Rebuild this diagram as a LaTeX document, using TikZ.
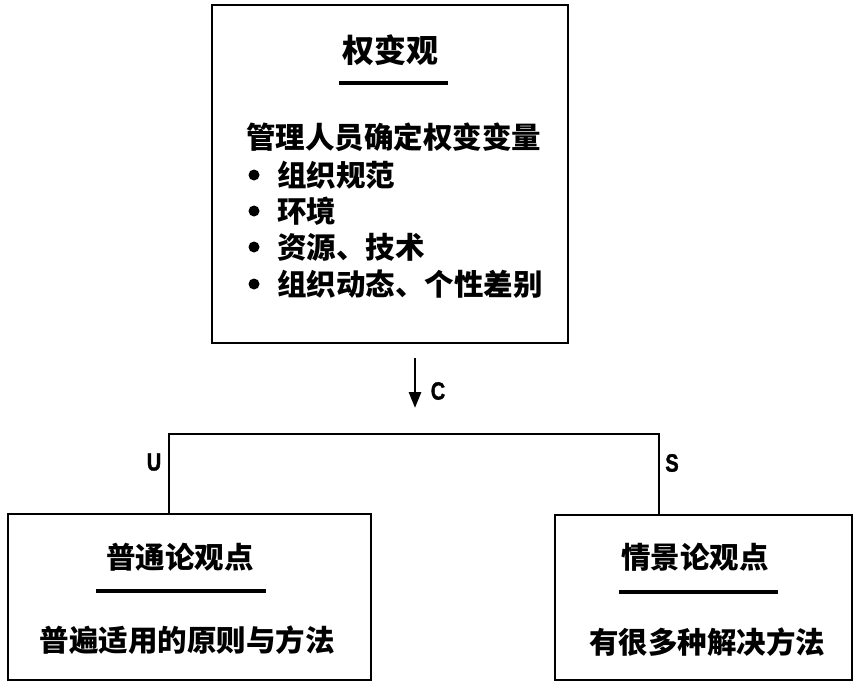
\documentclass[tikz,border=0pt]{standalone}
\usepackage{fontspec}
\usepackage{graphicx}
\newfontfamily\cjk{Noto Sans CJK SC}
\newfontfamily\latinb{Liberation Sans}[BoldFeatures={FakeBold=1.5}]
\usetikzlibrary{arrows.meta}
\newcommand{\narrowlab}[1]{\scalebox{0.8}[1]{#1}}
\begin{document}
\begin{tikzpicture}[x=1pt,y=-1pt,
  box/.style={draw,line width=2.6pt,minimum width=#1,inner sep=0pt},
  boxh/.style={minimum height=#1},
  ttl/.style={font=\cjk\bfseries\fontsize{32}{32}\selectfont,inner sep=0pt},
  txt/.style={font=\cjk\bfseries\fontsize{29.5}{29.5}\selectfont,inner sep=0pt},
  lab/.style={font=\latinb\bfseries\fontsize{25}{25}\selectfont,inner sep=0pt},
  bul/.style={circle,fill=black,minimum size=11pt,inner sep=0pt},
  uline/.style={line width=3.5pt},
  conn/.style={line width=2.8pt}]
\useasboundingbox (0,0) rectangle (858,685);
% boxes
\node[box=356pt,boxh=338pt] (top) at (390,174) {};
\node[box=363pt,boxh=166pt] (lbox) at (189.5,597) {};
\node[box=297pt,boxh=165pt] (rbox) at (703.5,597.5) {};
% top box content
\node[ttl] (t1) at (390,50) {权变观};
\coordinate (u1a) at (339,83); \coordinate (u1b) at (448,83);
\draw[uline] (u1a) -- (u1b);
\node[txt,anchor=west] (h1) at (246,137) {管理人员确定权变变量};
\node[bul] (b1) at (254,175) {};
\node[txt,anchor=west] (l1) at (277,175) {组织规范};
\node[bul] (b2) at (254,211) {};
\node[txt,anchor=west] (l2) at (277,211) {环境};
\node[bul] (b3) at (254,247) {};
\node[txt,anchor=west] (l3) at (277,247) {资源、技术};
\node[bul] (b4) at (254,284) {};
\node[txt,anchor=west] (l4) at (277,284) {组织动态、个性差别};
% left box content
\node[txt] (lt) at (180,557) {普通论观点};
\coordinate (u2a) at (96,591); \coordinate (u2b) at (266,591);
\draw[uline] (u2a) -- (u2b);
\node[txt] (ltx) at (187,640) {普遍适用的原则与方法};
% right box content
\node[txt] (rt) at (695,557) {情景论观点};
\coordinate (u3a) at (619,592); \coordinate (u3b) at (778,592);
\draw[uline] (u3a) -- (u3b);
\node[txt] (rtx) at (707,642) {有很多种解决方法};
% arrow C
\coordinate (as) at (415,358); \coordinate (ae) at (415,408);
\draw[conn,-{Triangle[length=16pt,width=12pt]}] (as) -- (ae);
\node[lab] (c) at (438,391) {\narrowlab{C}};
% connector tree
\coordinate (jl) at (169,434); \coordinate (jr) at (659,434);
\draw[conn] (lbox.north -| jl) -- (jl) -- (jr) -- (rbox.north -| jr);
\node[lab] (u) at (154,462) {\narrowlab{U}};
\node[lab] (s) at (672,463) {\narrowlab{S}};
\end{tikzpicture}
\end{document}
